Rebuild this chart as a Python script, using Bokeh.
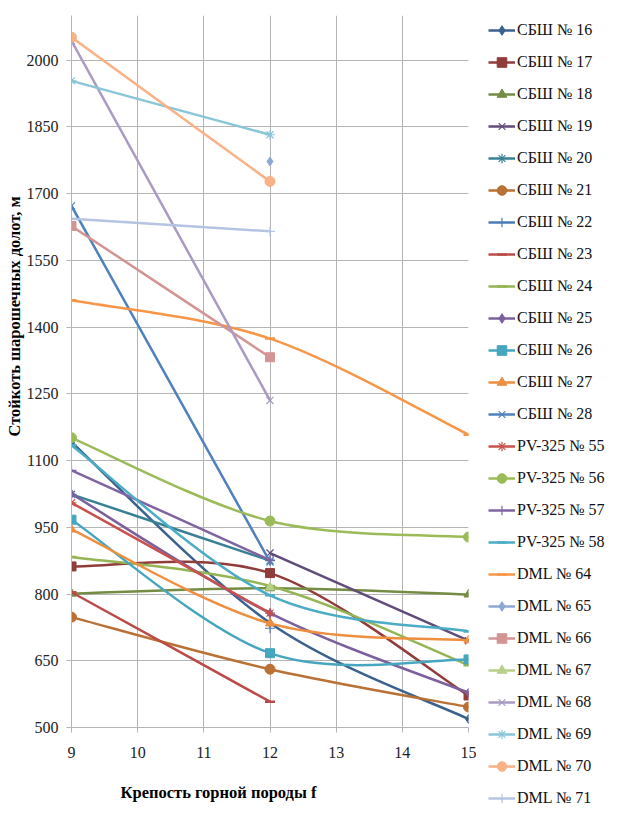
import math
from bokeh.plotting import figure
from bokeh.layouts import row
from bokeh.models import Legend, LegendItem, FixedTicker, Title, ColumnDataSource
from bokeh.embed import file_html
from bokeh.resources import INLINE

nan = float("nan")

# x categories: rock hardness f
hardness = [9, 12, 15]

# bit durability, m
sbsh16 = [1141, 735, 519]
sbsh17 = [862, 847, 572]
sbsh18 = [801, 813, 799]
sbsh19 = [nan, 892, 695]
sbsh20 = [1024, 875, nan]
sbsh21 = [748, 631, 546]
sbsh22 = [nan, 723, nan]
sbsh23 = [804, 558, nan]
sbsh24 = [883, 818, 640]
sbsh25 = [1025, 757, 578]
sbsh26 = [967, 667, 653]
sbsh27 = [945, 734, 696]
sbsh28 = [1672, 872, nan]
pv55 = [1005, 757, nan]
pv56 = [1151, 964, 928]
pv57 = [1078, 876, nan]
pv58 = [1134, 797, 716]
dml64 = [1460, 1374, 1158]
dml65 = [nan, 1772, nan]
dml66 = [1627, 1332, nan]
dml67 = [nan, 815, nan]
dml68 = [2043, 1235, nan]
dml69 = [1953, 1832, nan]
dml70 = [2051, 1727, nan]
dml71 = [1643, 1615, nan]

names = ["СБШ № 16", "СБШ № 17", "СБШ № 18", "СБШ № 19", "СБШ № 20", "СБШ № 21",
         "СБШ № 22", "СБШ № 23", "СБШ № 24", "СБШ № 25", "СБШ № 26", "СБШ № 27",
         "СБШ № 28", "PV-325 № 55", "PV-325 № 56", "PV-325 № 57", "PV-325 № 58",
         "DML № 64", "DML № 65", "DML № 66", "DML № 67", "DML № 68", "DML № 69",
         "DML № 70", "DML № 71"]
series = [sbsh16, sbsh17, sbsh18, sbsh19, sbsh20, sbsh21, sbsh22, sbsh23, sbsh24,
          sbsh25, sbsh26, sbsh27, sbsh28, pv55, pv56, pv57, pv58, dml64, dml65,
          dml66, dml67, dml68, dml69, dml70, dml71]

colors = ["#3B618E", "#903C3A", "#748C43", "#604B7A", "#388195", "#B97135",
          "#4A7BB6", "#BA4B48", "#95B554", "#7B609D", "#46A6BF", "#EE8E3F",
          "#4F81BD", "#C8504D", "#9BBB59", "#8064A2", "#4BACC6", "#F79646",
          "#8EA8D4", "#D39593", "#B8CF8A", "#A99BC3", "#88C6D8", "#F9B185", "#B4C4E2"]
markers = ["diamond", "square", "triangle", "x", "asterisk", "circle", "cross", "dash", "dash"] * 3

y_ticks = [500, 650, 800, 950, 1100, 1250, 1400, 1550, 1700, 1850, 2000]
x_ticks = [9, 10, 11, 12, 13, 14, 15]

p = figure(width=476, height=824, x_range=(9, 15), y_range=(500, 2100),
           output_backend="svg", toolbar_location=None,
           min_border_left=71, min_border_right=8, min_border_top=15, min_border_bottom=97)
p.frame_align = False
p.outline_line_color = None
p.background_fill_color = "white"

p.xaxis.ticker = FixedTicker(ticks=x_ticks)
p.yaxis.ticker = FixedTicker(ticks=y_ticks)
for ax in (p.xaxis[0], p.yaxis[0]):
    ax.axis_line_color = "#B5B5B5"
    ax.major_tick_line_color = "#B5B5B5"
    ax.major_tick_out = 5
    ax.major_tick_in = 0
    ax.minor_tick_line_color = None
    ax.major_label_text_font = "Liberation Serif"
    ax.major_label_text_font_size = "16px"
    ax.major_label_text_color = "#222222"
p.xaxis.major_label_standoff = 14
p.yaxis.major_label_standoff = 8
p.grid.grid_line_color = "#B5B5B5"
p.grid.grid_line_width = 1
p.xgrid.ticker = FixedTicker(ticks=x_ticks)
p.ygrid.ticker = FixedTicker(ticks=y_ticks)


def segments(xs, ys):
    pts = [(x, y) for x, y in zip(xs, ys) if not math.isnan(y)]
    n = len(pts)
    out = dict(x0=[], y0=[], x1=[], y1=[], cx0=[], cy0=[], cx1=[], cy1=[])
    for i in range(n - 1):
        pp = pts[max(i - 1, 0)]
        a = pts[i]
        b = pts[i + 1]
        nx = pts[min(i + 2, n - 1)]
        out["x0"].append(a[0]); out["y0"].append(a[1])
        out["x1"].append(b[0]); out["y1"].append(b[1])
        out["cx0"].append(a[0] + (b[0] - pp[0]) / 6.0)
        out["cy0"].append(a[1] + (b[1] - pp[1]) / 6.0)
        out["cx1"].append(b[0] - (nx[0] - a[0]) / 6.0)
        out["cy1"].append(b[1] - (nx[1] - a[1]) / 6.0)
    return out


# legend panel to the right of the chart; its own copies of the series lie
# outside its (empty) ranges, so only the legend is visible there
lf = figure(width=157, height=824, x_range=(0, 1), y_range=(0, 1),
            output_backend="svg", toolbar_location=None,
            x_axis_type=None, y_axis_type=None,
            min_border_left=2, min_border_right=0, min_border_top=8, min_border_bottom=0)
lf.frame_align = False
lf.outline_line_color = None
lf.grid.grid_line_color = None

items = []
for name, ys, col, mk in zip(names, series, colors, markers):
    seg = segments(hardness, ys)
    if seg["x0"]:
        p.bezier(x0="x0", y0="y0", x1="x1", y1="y1", cx0="cx0", cy0="cy0",
                 cx1="cx1", cy1="cy1", source=ColumnDataSource(seg),
                 line_color=col, line_width=2.5, line_cap="round")
    px = [x for x, y in zip(hardness, ys) if not math.isnan(y)]
    py = [y for y in ys if not math.isnan(y)]
    filled = mk in ("diamond", "square", "triangle", "circle")
    size = 10 if mk in ("circle", "x", "asterisk", "cross", "dash") else 9
    if filled:
        kw = dict(fill_color=col, line_color=col, line_width=1)
    else:
        kw = dict(fill_color=None, line_color=col, line_width=1.2 if mk != "dash" else 2.5)
    p.scatter(px, py, marker=mk, size=size, **kw)
    # legend glyphs
    lr = lf.line(x=px, y=py, line_color=col, line_width=2.5)
    sr = lf.scatter(x=px, y=py, marker=mk, size=size, **kw)
    items.append(LegendItem(label=name, renderers=[lr, sr]))

legend = Legend(items=items, location="top_left", orientation="vertical",
                glyph_width=27, glyph_height=24, label_height=24, spacing=8,
                padding=0, margin=10, label_standoff=2,
                label_text_font="Liberation Serif", label_text_font_size="16px",
                label_text_color="#111111", label_text_baseline="middle",
                border_line_color=None, background_fill_alpha=0)
lf.add_layout(legend, "center")

p.add_layout(Title(text="Крепость горной породы  f", align="left", offset=49,
                   standoff=40, text_font="Liberation Serif", text_font_style="bold",
                   text_font_size="16.5px", text_color="#000000"), "below")
p.add_layout(Title(text="Стойкоть шарошечных долот, м", align="left", offset=291,
                   standoff=0, text_font="Liberation Serif", text_font_style="bold",
                   text_font_size="16.5px", text_color="#000000"), "left")

layout = row(p, lf)
open("out.html", "w").write(file_html(layout, INLINE))
